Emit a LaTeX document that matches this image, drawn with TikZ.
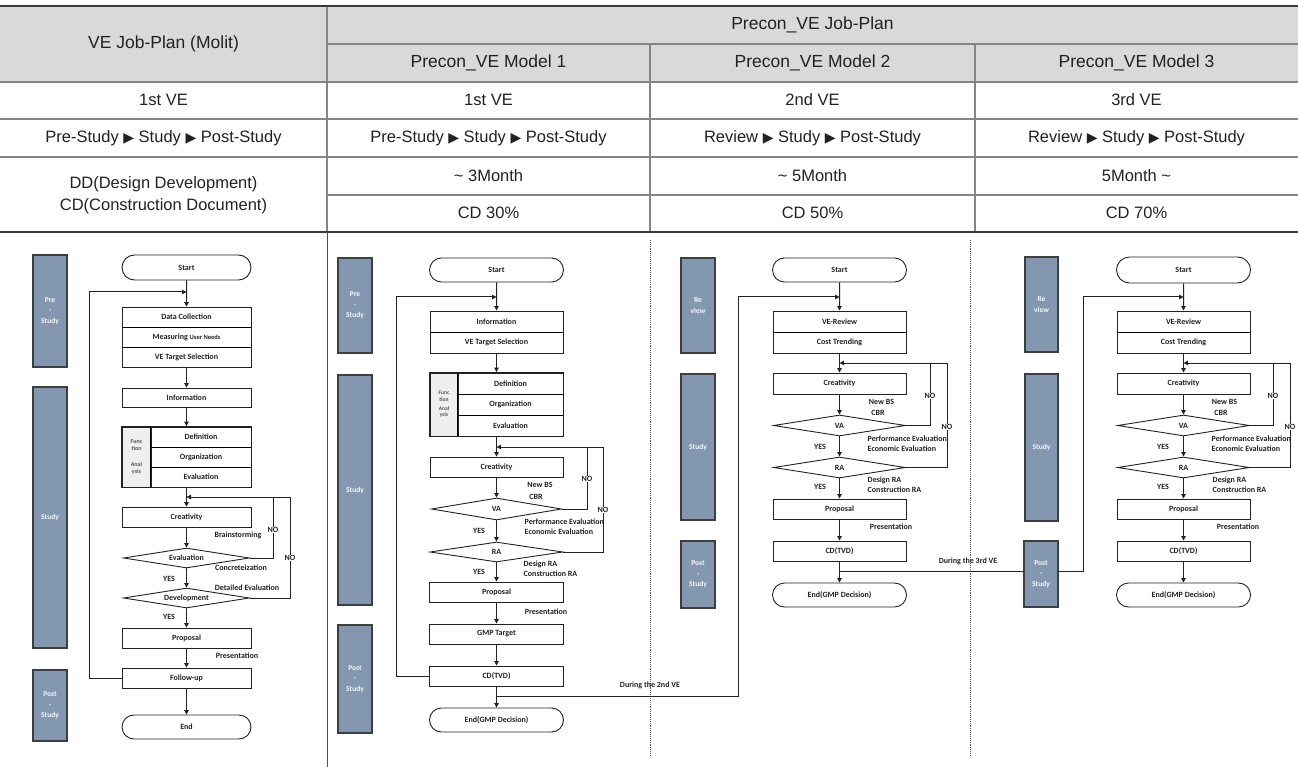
\documentclass[tikz,border=0pt]{standalone}
\usepackage{fontspec}
\usetikzlibrary{arrows.meta,shapes.geometric,shapes.misc,fit}
\newfontfamily\tabfont{Liberation Sans}
\newfontfamily\symfont{DejaVu Sans}
\newfontfamily\cfont{Carlito}
\definecolor{hdrgray}{HTML}{D9D9D9}
\definecolor{rulegray}{HTML}{858585}
\definecolor{ruledark}{HTML}{3A3A3A}
\definecolor{txt}{HTML}{222222}
\definecolor{barblue}{HTML}{8497B0}
\definecolor{bardark}{HTML}{3F3F3F}
\definecolor{ink}{HTML}{222222}
\definecolor{fagray}{HTML}{EFEFEF}
\definecolor{fatext}{HTML}{555555}
\newcommand{\fc}{\cfont\bfseries\fontsize{8}{9.5}\selectfont}
\newcommand{\barf}{\cfont\bfseries\fontsize{7.5}{10.5}\selectfont}
\newcommand{\mytri}{{\symfont\fontsize{14}{14}\selectfont ▶}}
\begin{document}
\begin{tikzpicture}[x=1pt,y=-1pt,
  tab/.style={font=\tabfont\fontsize{16.5}{22}\selectfont, text=txt, inner sep=0, align=center},
  hdr/.style={font=\tabfont\fontsize{17.5}{20}\selectfont, text=txt, inner sep=0},
  fbox/.style={draw=ink, line width=0.9pt, fill=white, minimum height=20pt, inner sep=0, font=\fc, text=ink},
  term/.style={fbox, rounded rectangle},
  dia/.style={diamond, draw=ink, line width=0.9pt, fill=white, inner sep=0, aspect=6, font=\fc, text=ink},
  bar/.style={draw=bardark, line width=1.2pt, fill=barblue, inner sep=0, font=\barf, text=white!92!barblue, align=center, minimum width=34pt},
  fgray/.style={draw=ink, line width=0.9pt, fill=fagray, inner sep=0, text=fatext, align=center},
  lab/.style={font=\fc, inner sep=0.5pt, text=ink},
  nolab/.style={lab, fill=white},
  arr/.style={draw=ink, line width=1pt, -{Triangle[length=4.5pt,width=4.5pt]}},
  ln/.style={draw=ink, line width=1pt},
  sepl/.style={line width=1.8pt, draw=black},
  rule/.style={draw=rulegray, line width=1.3pt},
  thick rule/.style={draw=ruledark, line width=2.2pt},
]
\useasboundingbox (0,0) rectangle (1298,767);
\fill[white] (0,0) rectangle (1298,767);
% ---------------- table ----------------
\fill[hdrgray] (0,6) rectangle (1298,82);
\draw[rule] (327,44) -- (1298,44);
\draw[rule] (0,82) -- (1298,82);
\draw[rule] (0,119) -- (1298,119);
\draw[rule] (0,157) -- (1298,157);
\draw[rule] (327,195) -- (1298,195);
\draw[rule] (327,6) -- (327,232);
\draw[rule] (650,44) -- (650,232);
\draw[rule] (975,44) -- (975,232);
\draw[thick rule] (0,6) -- (1298,6);
\draw[thick rule] (0,232) -- (1298,232);
\node[hdr] (h0) at (163.5,44) {VE Job-Plan (Molit)};
\node[hdr] (hp) at (812.5,25) {Precon\_VE Job-Plan};
\node[hdr] (hm1) at (488.5,63) {Precon\_VE Model 1};
\node[hdr] (hm2) at (812.5,63) {Precon\_VE Model 2};
\node[hdr] (hm3) at (1136.5,63) {Precon\_VE Model 3};
\node[tab] (r1a) at (163.5,100) {1st VE};
\node[tab] (r1b) at (488.5,100) {1st VE};
\node[tab] (r1c) at (812.5,100) {2nd VE};
\node[tab] (r1d) at (1136.5,100) {3rd VE};
\node[tab] (r2a) at (163.5,138) {Pre-Study \mytri{} Study \mytri{} Post-Study};
\node[tab] (r2b) at (488.5,138) {Pre-Study \mytri{} Study \mytri{} Post-Study};
\node[tab] (r2c) at (812.5,138) {Review \mytri{} Study \mytri{} Post-Study};
\node[tab] (r2d) at (1136.5,138) {Review \mytri{} Study \mytri{} Post-Study};
\node[tab] (r3a) at (163.5,195) {DD(Design Development)\\CD(Construction Document)};
\node[tab] (r3b) at (488.5,176) {\textasciitilde{} 3Month};
\node[tab] (r3c) at (812.5,176) {\textasciitilde{} 5Month};
\node[tab] (r3d) at (1136.5,176) {5Month \textasciitilde};
\node[tab] (r4b) at (488.5,213) {CD 30\%};
\node[tab] (r4c) at (812.5,213) {CD 50\%};
\node[tab] (r4d) at (1136.5,213) {CD 70\%};
% column separators of the lower part
\draw[draw=ink!80, line width=1pt] (327,232) -- (327,767);
\draw[draw=ink!70, line width=0.9pt, densely dotted] (650,240) -- (650,755);
\draw[draw=ink!70, line width=0.9pt, densely dotted] (970,240) -- (970,755);

% ---------------- Flowchart: VE Job-Plan (Molit) ----------------
\node[bar, minimum height=112] (pre1) at (50,311) {Pre\\-\\Study};
\node[bar, minimum height=261] (stu1) at (50,517.5) {Study};
\node[bar, minimum height=71] (pos1) at (50,705.5) {Post\\-\\Study};
\node[term, minimum width=129, minimum height=25] (s1) at (186.5,267.5) {Start};
\node[fbox, minimum width=129] (dc1) at (186.5,317) {Data Collection};
\node[fbox, minimum width=129] (mun1) at (186.5,337) {Measuring {\fontsize{6.5}{8}\selectfont User Needs}};
\node[fbox, minimum width=129] (vts1) at (186.5,357) {VE Target Selection};
\node[fbox, minimum width=129, minimum height=19] (inf1) at (186.5,397.5) {Information};
\node[fgray, minimum width=29, minimum height=60, font=\cfont\bfseries\fontsize{6}{7.5}\selectfont] (fa1) at (136.5,457) {Func\\tion\\[8pt]Anal\\ysis};
\node[fbox, minimum width=100] (def1) at (201,437) {Definition};
\node[fbox, minimum width=100] (org1) at (201,457) {Organization};
\node[fbox, minimum width=100] (ev1) at (201,477) {Evaluation};
\node[fit=(fa1)(def1)(ev1), inner sep=0, draw=ink, line width=0.9pt] (g1) {};
\draw[sepl] (dc1.south west) -- (dc1.south east);
\draw[sepl] (mun1.south west) -- (mun1.south east);
\draw[sepl] (def1.north west) -- (ev1.south west);
\draw[sepl] (def1.south west) -- (def1.south east);
\draw[sepl] (org1.south west) -- (org1.south east);
\node[fbox, minimum width=129] (cre1) at (186.5,517) {Creativity};
\node[dia, minimum width=126, minimum height=20] (evd1) at (186.5,558) {Evaluation};
\node[dia, minimum width=126, minimum height=20] (dev1) at (186.5,598) {Development};
\node[fbox, minimum width=129] (pro1) at (186.5,638) {Proposal};
\node[fbox, minimum width=129] (fu1) at (186.5,678) {Follow-up};
\node[term, minimum width=129, minimum height=24] (end1) at (186.5,727) {End};
\coordinate (j1) at (186.5,292);
\coordinate (l1) at (89,292);
\coordinate (j2) at (186.5,497);
\coordinate (n1) at (273,497);
\coordinate (n2) at (290,497);
\draw[arr] (s1) -- (dc1);
\draw[arr] (vts1) -- (inf1);
\draw[arr] (inf1) -- (g1);
\draw[arr] (g1) -- (cre1);
\draw[arr] (cre1) -- (evd1);
\draw[arr] (evd1) -- (dev1);
\draw[arr] (dev1) -- (pro1);
\draw[arr] (pro1) -- (fu1);
\draw[arr] (fu1) -- (end1);
\draw[arr] (fu1.west) -| (l1) -- (j1);
\draw[arr] (evd1.east) -| (n1) -- (j2);
\draw[ln] (dev1.east) -| (n2) -- (n1);
\node[lab] (b1) at (238,535) {Brainstorming};
\node[nolab] (no1a) at (273,530) {NO};
\node[lab] (c1) at (241,568) {Concreteization};
\node[lab] (y1a) at (169,579) {YES};
\node[lab] (de1) at (247,588) {Detailed Evaluation};
\node[nolab] (no1b) at (290,558) {NO};
\node[lab] (y1b) at (169,617) {YES};
\node[lab] (pr1) at (237,656) {Presentation};

% ---------------- Flowchart: Precon_VE Model 1 ----------------
\node[bar, minimum height=95] (pre2) at (355,305.5) {Pre\\-\\Study};
\node[bar, minimum height=230] (stu2) at (355,490) {Study};
\node[bar, minimum height=108] (pos2) at (355,679) {Post\\-\\Study};
\node[term, minimum width=134, minimum height=24] (s2) at (496.5,270) {Start};
\node[fbox, minimum width=133, minimum height=21] (inf2) at (496.5,321.5) {Information};
\node[fbox, minimum width=133, minimum height=21] (vts2) at (496.5,342.5) {VE Target Selection};
\node[fgray, minimum width=28, minimum height=63, font=\cfont\bfseries\fontsize{5.5}{6.3}\selectfont] (fa2) at (444,404.5) {Func\\tion\\[3pt]Anal\\ysis};
\node[fbox, minimum width=105, minimum height=21] (def2) at (510.5,383.5) {Definition};
\node[fbox, minimum width=105, minimum height=21] (org2) at (510.5,404.5) {Organization};
\node[fbox, minimum width=105, minimum height=21] (ev2) at (510.5,425.5) {Evaluation};
\node[fit=(fa2)(def2)(ev2), inner sep=0, draw=ink, line width=0.9pt] (g2) {};
\draw[sepl] (inf2.south west) -- (inf2.south east);
\draw[sepl] (def2.north west) -- (ev2.south west);
\draw[sepl] (def2.south west) -- (def2.south east);
\draw[sepl] (org2.south west) -- (org2.south east);
\node[fbox, minimum width=133] (cre2) at (496.5,467) {Creativity};
\node[dia, minimum width=130, minimum height=22] (va2) at (496.5,509) {VA};
\node[dia, minimum width=133, minimum height=20] (ra2) at (496.5,552) {RA};
\node[fbox, minimum width=134] (pro2) at (496.5,592) {Proposal};
\node[fbox, minimum width=134] (gmp2) at (496.5,634) {GMP Target};
\node[fbox, minimum width=134] (cd2) at (496.5,676) {CD(TVD)};
\node[term, minimum width=134, minimum height=24] (end2) at (496.5,720) {End(GMP Decision)};
\coordinate (j3) at (496.5,297);
\coordinate (l2) at (396,297);
\coordinate (j4) at (496.5,447);
\coordinate (n3) at (587,447);
\coordinate (n4) at (603,447);
\coordinate (d1) at (496.5,696);
\coordinate (m2l) at (738,297);
\draw[arr] (s2) -- (inf2);
\draw[arr] (vts2) -- (g2);
\draw[arr] (g2) -- (cre2);
\draw[arr] (cre2) -- (va2);
\draw[arr] (va2) -- (ra2);
\draw[arr] (ra2) -- (pro2);
\draw[arr] (pro2) -- (gmp2);
\draw[arr] (gmp2) -- (cd2);
\draw[arr] (cd2) -- (end2);
\draw[arr] (cd2.west) -| (l2) -- (j3);
\draw[arr] (va2.east) -| (n3) -- (j4);
\draw[ln] (ra2.east) -| (n4) -- (n3);
\node[lab] (nb2) at (540,485) {New BS};
\node[lab] (cb2) at (536,497) {CBR};
\node[nolab] (no2a) at (587,479) {NO};
\node[nolab] (no2b) at (603,510) {NO};
\node[lab, anchor=west] (pe2) at (524,522) {Performance Evaluation};
\node[lab, anchor=west] (ee2) at (524,532) {Economic Evaluation};
\node[lab] (y2a) at (479,531) {YES};
\node[lab, anchor=west] (dr2) at (523,564) {Design RA};
\node[lab, anchor=west] (cr2) at (523,574) {Construction RA};
\node[lab] (y2b) at (479,572) {YES};
\node[lab] (pr2) at (546,612) {Presentation};
\node[lab] (dur2) at (650,685) {During the 2nd VE};

% ---------------- Flowchart: Precon_VE Model 2 ----------------
\node[bar, minimum height=95] (rev3) at (698,305.5) {Re\\view};
\node[bar, minimum height=146] (stu3) at (698,447) {Study};
\node[bar, minimum height=67] (pos3) at (698,574.5) {Post\\-\\Study};
\node[term, minimum width=134, minimum height=24] (s3) at (839.5,270) {Start};
\node[fbox, minimum width=133, minimum height=21] (vr3) at (839.5,321.5) {VE-Review};
\node[fbox, minimum width=133, minimum height=21] (ct3) at (839.5,342.5) {Cost Trending};
\draw[sepl] (vr3.south west) -- (vr3.south east);
\node[fbox, minimum width=133, minimum height=21] (cre3) at (839.5,383.5) {Creativity};
\node[dia, minimum width=132, minimum height=21] (va3) at (839.5,425.5) {VA};
\node[dia, minimum width=132, minimum height=21] (ra3) at (839.5,467.5) {RA};
\node[fbox, minimum width=133] (pro3) at (839.5,509) {Proposal};
\node[fbox, minimum width=133] (cd3) at (839.5,551) {CD(TVD)};
\node[term, minimum width=134, minimum height=24] (end3) at (839.5,595) {End(GMP Decision)};
\coordinate (j5) at (839.5,297);
\coordinate (j6) at (839.5,363);
\coordinate (n5) at (930,363);
\coordinate (n6) at (947,363);
\coordinate (d2) at (839.5,571);
\coordinate (m3l) at (1083,297);
\coordinate (j7) at (1183.5,297);
\draw[arr] (s3) -- (vr3);
\draw[arr] (ct3) -- (cre3);
\draw[arr] (cre3) -- (va3);
\draw[arr] (va3) -- (ra3);
\draw[arr] (ra3) -- (pro3);
\draw[arr] (pro3) -- (cd3);
\draw[arr] (cd3) -- (end3);
\draw[arr] (va3.east) -| (n5) -- (j6);
\draw[ln] (ra3.east) -| (n6) -- (n5);
\draw[arr] (d1) -| (m2l) -- (j5);
\node[lab] (nb3) at (881.5,402) {New BS};
\node[lab] (cb3) at (878,413) {CBR};
\node[nolab] (no3a) at (930,396) {NO};
\node[nolab] (no3b) at (947,427) {NO};
\node[lab, anchor=west] (pe3) at (867,439) {Performance Evaluation};
\node[lab, anchor=west] (ee3) at (867,449) {Economic Evaluation};
\node[lab] (y3a) at (820,447) {YES};
\node[lab, anchor=west] (dr3) at (867,480) {Design RA};
\node[lab, anchor=west] (cr3) at (867,490) {Construction RA};
\node[lab] (y3b) at (820,487) {YES};
\node[lab] (pr3) at (891,527) {Presentation};
\node[lab] (dur3) at (968,561) {During the 3rd VE};

% ---------------- Flowchart: Precon_VE Model 3 ----------------
\node[bar, minimum height=95, minimum width=33] (rev4) at (1041.5,304.5) {Re\\view};
\node[bar, minimum height=147, minimum width=33] (stu4) at (1041.5,447.5) {Study};
\node[bar, minimum height=66] (pos4) at (1041,574) {Post\\-\\Study};
\node[term, minimum width=134, minimum height=26] (s4) at (1183.5,270) {Start};
\node[fbox, minimum width=133, minimum height=21] (vr4) at (1183.5,321.5) {VE-Review};
\node[fbox, minimum width=133, minimum height=21] (ct4) at (1183.5,342.5) {Cost Trending};
\draw[sepl] (vr4.south west) -- (vr4.south east);
\node[fbox, minimum width=133, minimum height=21] (cre4) at (1183.5,383.5) {Creativity};
\node[dia, minimum width=132, minimum height=21] (va4) at (1183.5,425.5) {VA};
\node[dia, minimum width=132, minimum height=21] (ra4) at (1183.5,467.5) {RA};
\node[fbox, minimum width=133] (pro4) at (1183.5,509) {Proposal};
\node[fbox, minimum width=133] (cd4) at (1183.5,551) {CD(TVD)};
\node[term, minimum width=134, minimum height=24] (end4) at (1183.5,595) {End(GMP Decision)};
\coordinate (j8) at (1183.5,363);
\coordinate (n7) at (1273,363);
\coordinate (n8) at (1290,363);
\draw[arr] (s4) -- (vr4);
\draw[arr] (ct4) -- (cre4);
\draw[arr] (cre4) -- (va4);
\draw[arr] (va4) -- (ra4);
\draw[arr] (ra4) -- (pro4);
\draw[arr] (pro4) -- (cd4);
\draw[arr] (cd4) -- (end4);
\draw[arr] (va4.east) -| (n7) -- (j8);
\draw[ln] (ra4.east) -| (n8) -- (n7);
\draw[ln] (d2) -- (d2 -| pos4.west);
\draw[arr] (d2 -| pos4.east) -| (m3l) -- (j7);
\node[lab] (nb4) at (1224.5,402) {New BS};
\node[lab] (cb4) at (1221,413) {CBR};
\node[nolab] (no4a) at (1273,396) {NO};
\node[nolab] (no4b) at (1290,427) {NO};
\node[lab, anchor=west] (pe4) at (1211,439) {Performance Evaluation};
\node[lab, anchor=west] (ee4) at (1211,449) {Economic Evaluation};
\node[lab] (y4a) at (1163,447) {YES};
\node[lab, anchor=west] (dr4) at (1212,480) {Design RA};
\node[lab, anchor=west] (cr4) at (1212,490) {Construction RA};
\node[lab] (y4b) at (1163,487) {YES};
\node[lab] (pr4) at (1238,527) {Presentation};
\end{tikzpicture}
\end{document}
